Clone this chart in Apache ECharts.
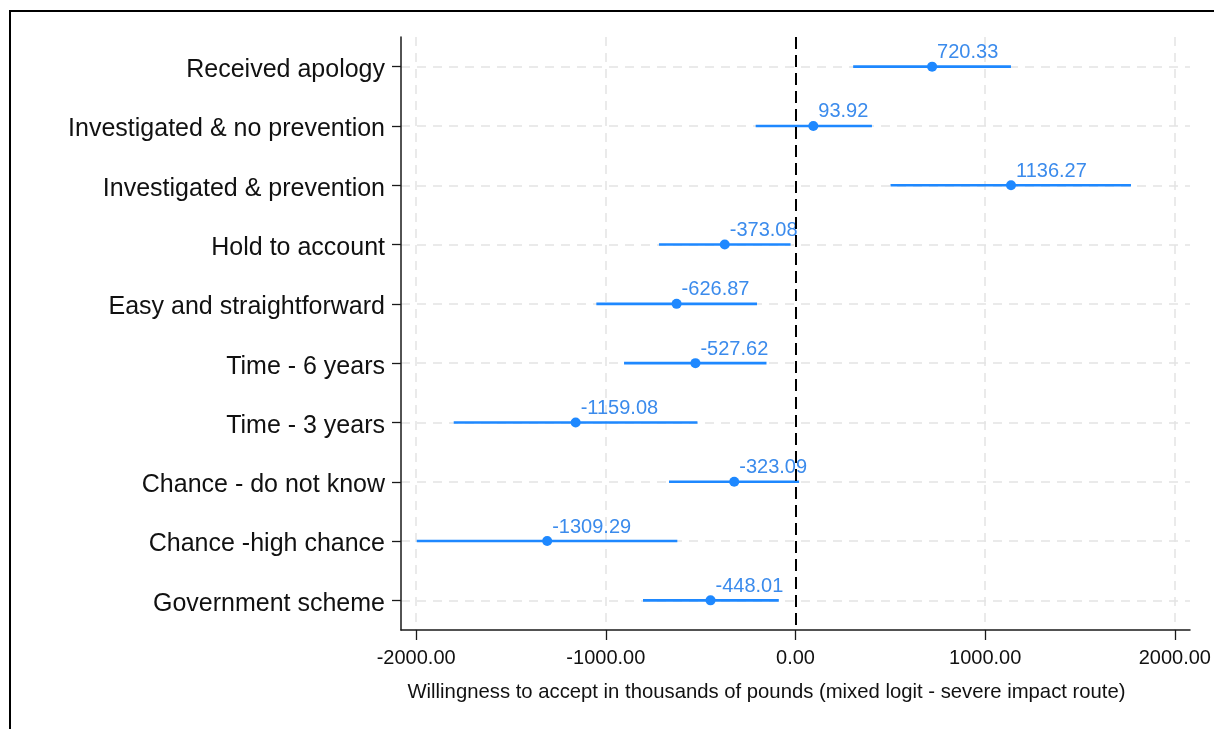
<!DOCTYPE html>
<html>
<head>
<meta charset="utf-8">
<script src="https://cdn.jsdelivr.net/npm/echarts@6/dist/echarts.min.js"></script>
<style>
  html, body { margin: 0; padding: 0; background: #fff; }
  #chart { width: 1214px; height: 729px; }
</style>
</head>
<body>
<div id="chart"></div>
<script>
// ---- data ----
const categories = [
  'Received apology',
  'Investigated & no prevention',
  'Investigated & prevention',
  'Hold to account',
  'Easy and straightforward',
  'Time - 6 years',
  'Time - 3 years',
  'Chance - do not know',
  'Chance -high chance',
  'Government scheme'
];
const estimates = [720.33, 93.92, 1136.27, -373.08, -626.87, -527.62, -1159.08, -323.09, -1309.29, -448.01];
const lowerCI   = [304, -210, 501, -720, -1050, -904, -1802, -667, -1997, -804];
const upperCI   = [1136, 403, 1769, -26, -203, -153, -517, 19, -623, -88];
const xTicks = [-2000, -1000, 0, 1000, 2000];
const xTitle = 'Willingness to accept in thousands of pounds (mixed logit - severe impact route)';

const lineColor = '#1e88ff';
const labelColor = '#3b8bec';
const textColor = '#111111';
const FONT = 'Liberation Sans, Arial, sans-serif';

const ciData = categories.map((c, i) => [lowerCI[i], upperCI[i], i]);
const pointData = categories.map((c, i) => [estimates[i], c]);

const chart = echarts.init(document.getElementById('chart'), null, { renderer: 'canvas' });
chart.setOption({
  animation: false,
  backgroundColor: '#ffffff',
  textStyle: { fontFamily: FONT },
  graphic: [{
    type: 'rect',
    silent: true,
    z: 100,
    shape: { x: 10, y: 11, width: 1230, height: 740 },
    style: { fill: 'none', stroke: '#000', lineWidth: 2 }
  }],
  grid: { left: 401, right: 24, top: 37, bottom: 99, containLabel: false },
  xAxis: {
    type: 'value',
    min: -2080,
    max: 2080,
    axisLine: { show: true, onZero: false, lineStyle: { color: '#1a1a1a', width: 1.5 } },
    axisTick: { show: true, length: 10, customValues: xTicks, lineStyle: { color: '#1a1a1a', width: 1.3 } },
    axisLabel: {
      customValues: xTicks,
      margin: 18,
      color: textColor,
      fontSize: 20,
      fontFamily: FONT,
      formatter: v => Number(v).toFixed(2)
    },
    splitLine: { show: false },
    name: xTitle,
    nameLocation: 'middle',
    nameGap: 52,
    nameTextStyle: { color: textColor, fontSize: 20.3, fontFamily: FONT, padding: [0, 58, 0, 0] }
  },
  yAxis: {
    type: 'category',
    data: categories,
    inverse: true,
    boundaryGap: true,
    axisLine: { show: true, onZero: false, lineStyle: { color: '#1a1a1a', width: 1.5 } },
    axisTick: { show: true, alignWithLabel: true, length: 9, lineStyle: { color: '#1a1a1a', width: 1.3 } },
    axisLabel: {
      margin: 16,
      color: textColor,
      fontSize: 25,
      fontFamily: FONT,
      formatter: v => '{c|' + v + '}',
      rich: { c: { fontSize: 25, fontFamily: FONT, color: textColor, padding: [7, 0, 0, 0] } }
    },
    splitLine: { show: false }
  },
  series: [
    {
      name: 'grid',
      type: 'line',
      data: [],
      silent: true,
      z: 0,
      markLine: {
        silent: true,
        z: 0,
        symbol: 'none',
        animation: false,
        label: { show: false },
        lineStyle: { color: '#e4e4e4', width: 1.5, type: [9, 7] },
        data: xTicks.filter(v => v !== 0).map(v => ({ xAxis: v })).concat(categories.map(c => ({ yAxis: c })))
      }
    },
    {
      name: 'CI',
      type: 'custom',
      z: 6,
      data: ciData,
      encode: { x: [0, 1], y: 2 },
      renderItem: function (params, api) {
        const a = api.coord([api.value(0), api.value(2)]);
        const b = api.coord([api.value(1), api.value(2)]);
        return {
          type: 'line',
          shape: { x1: a[0], y1: a[1], x2: b[0], y2: b[1] },
          style: { stroke: lineColor, lineWidth: 2.6 }
        };
      }
    },
    {
      name: 'Estimate',
      type: 'scatter',
      z: 7,
      data: pointData,
      symbol: 'circle',
      symbolSize: 10,
      itemStyle: { color: lineColor, opacity: 1 },
      label: {
        show: true,
        position: 'right',
        distance: 0,
        offset: [0, -14],
        color: labelColor,
        fontSize: 20,
        fontFamily: FONT,
        formatter: p => Number(p.value[0]).toFixed(2)
      }
    },
    {
      name: 'zero',
      type: 'line',
      data: [],
      silent: true,
      z: 10,
      markLine: {
        silent: true,
        z: 10,
        symbol: 'none',
        animation: false,
        label: { show: false },
        lineStyle: { color: '#000', width: 2, type: [12, 6] },
        data: [{ xAxis: 0 }]
      }
    }
  ]
});
</script>
</body>
</html>
